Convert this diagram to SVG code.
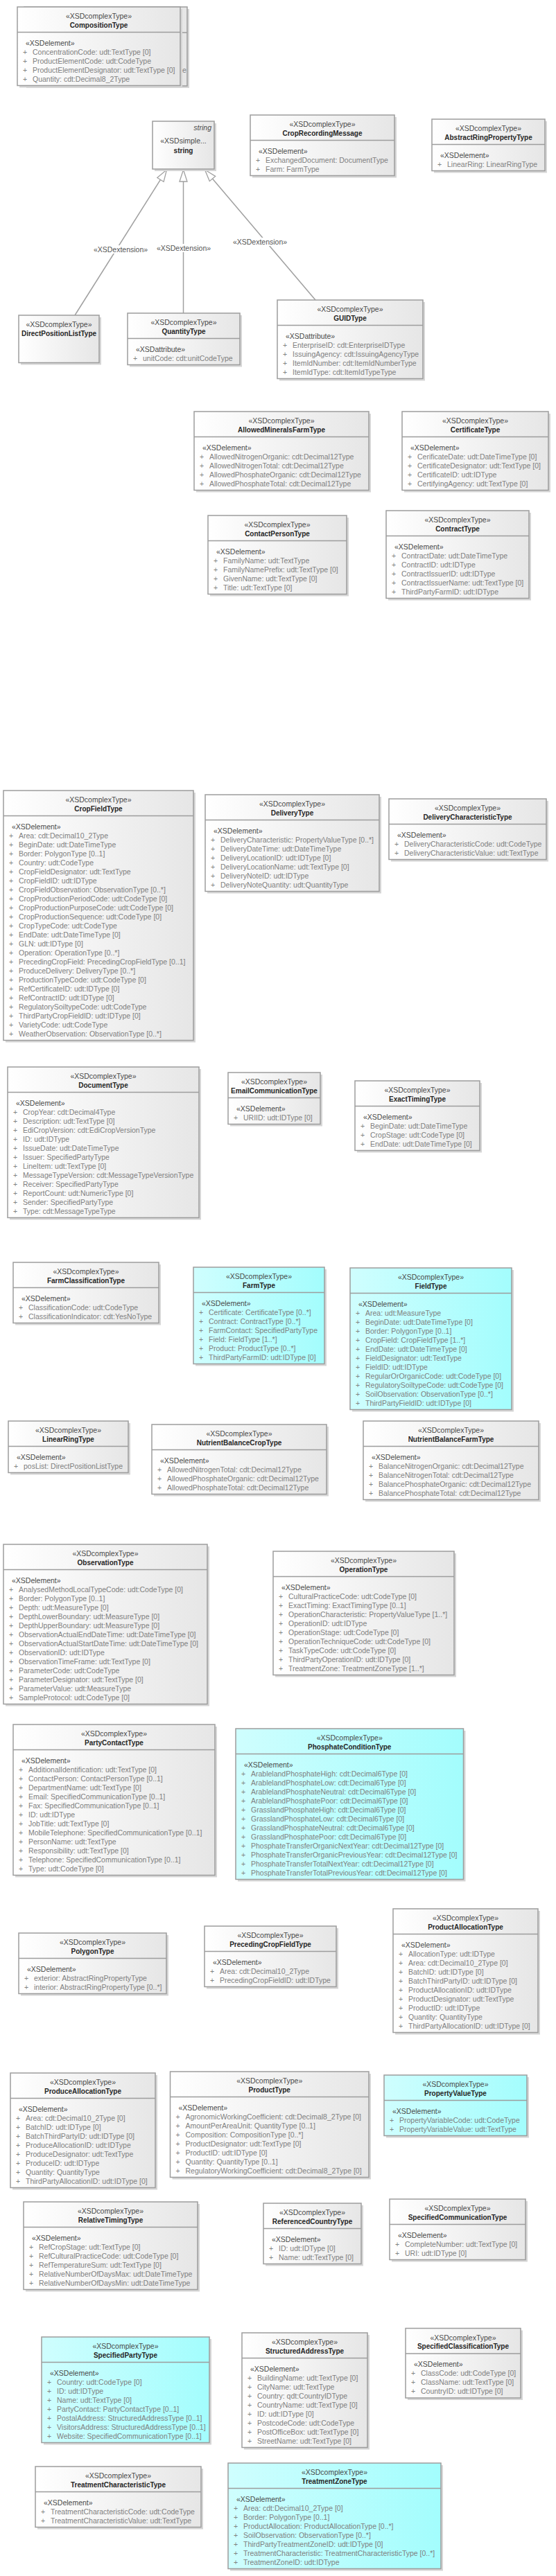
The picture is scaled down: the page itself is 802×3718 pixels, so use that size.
<svg xmlns="http://www.w3.org/2000/svg" width="802" height="3718" viewBox="0 0 802 3718">
<style>
text{font-family:"Liberation Sans",Arial,sans-serif;font-size:10.5px}
.b{fill:url(#gg);stroke:#9d9d9d;stroke-width:1.5}
.c{fill:url(#gc);stroke:#9d9d9d;stroke-width:1.5}
.sh{fill:#d6d6d6}
.d{stroke:#9d9d9d;stroke-width:1.5}
.s{fill:#4a4a4a;text-anchor:middle}
.n{fill:#262626;text-anchor:middle;font-weight:bold;font-size:10px}
.e{fill:#4a4a4a}
.a{fill:#808080}
.lb{fill:#555}
.cn{stroke:#a0a0a0;stroke-width:1.5;fill:none}
</style>
<defs>
<linearGradient id="gg" x1="0" y1="0" x2="1" y2="0"><stop offset="0" stop-color="#ffffff"/><stop offset="1" stop-color="#e6e6e6"/></linearGradient>
<linearGradient id="gc" x1="0" y1="0" x2="1" y2="0"><stop offset="0" stop-color="#cffefe"/><stop offset="1" stop-color="#a3fdfd"/></linearGradient>
<marker id="tri" markerUnits="userSpaceOnUse" markerWidth="20" markerHeight="14" refX="18" refY="7" orient="auto"><path d="M1,1.5 L18,7 L1,12.5 Z" fill="#fff" stroke="#a0a0a0" stroke-width="1.3"/></marker>
</defs>
<rect width="802" height="3718" fill="#fff"/>

<g id="connectors">
<line class="cn" x1="108" y1="455" x2="240.5" y2="245" marker-end="url(#tri)"/>
<line class="cn" x1="264.5" y1="452" x2="264.5" y2="245" marker-end="url(#tri)"/>
<line class="cn" x1="455" y1="433" x2="295.5" y2="245" marker-end="url(#tri)"/>
<rect x="137" y="354" width="74" height="12" fill="#fff"/>
<rect x="228" y="352" width="74" height="12" fill="#fff"/>
<rect x="338" y="343" width="74" height="12" fill="#fff"/>
<text class="lb" x="174" y="363.5" text-anchor="middle">«XSDextension»</text>
<text class="lb" x="265" y="361.5" text-anchor="middle">«XSDextension»</text>
<text class="lb" x="375" y="352.5" text-anchor="middle">«XSDextension»</text>
</g>

<g id="CompositionType_2" transform="translate(35,10)">
<rect class="sh" x="3" y="3" width="235" height="114"/>
<rect class="b" width="235" height="114"/>
<line class="d" x1="0" y1="37" x2="235" y2="37"/>
<text class="a" x="228" y="94.5">e</text>
</g>
<g id="CompositionType" transform="translate(25,10)">
<rect class="sh" x="3" y="3" width="235" height="113.5"/>
<rect class="b" width="235" height="113.5"/>
<line class="d" x1="0" y1="36.5" x2="235" y2="36.5"/>
<text class="s" x="117.5" y="17">«XSDcomplexType»</text>
<text class="n" x="117.5" y="29.5">CompositionType</text>
<text class="e" x="12" y="55.5">«XSDelement»</text>
<text class="a" x="8" y="68.5">+<tspan x="8" dy="13">+</tspan><tspan x="8" dy="13">+</tspan><tspan x="8" dy="13">+</tspan></text>
<text class="a" x="22" y="68.5">ConcentrationCode: udt:TextType [0]<tspan x="22" dy="13">ProductElementCode: udt:CodeType</tspan><tspan x="22" dy="13">ProductElementDesignator: udt:TextType [0]</tspan><tspan x="22" dy="13">Quantity: cdt:Decimal8_2Type</tspan></text>
</g>

<g id="string" transform="translate(220,175)">
<rect class="sh" x="3" y="3" width="89" height="69"/>
<rect class="b" width="89" height="69"/>
<text class="e" x="85" y="13" text-anchor="end" font-style="italic">string</text>
<text class="s" x="44.5" y="32">«XSDsimple...</text>
<text class="n" x="44.5" y="46">string</text>
</g>

<g id="CropRecordingMessage" transform="translate(361,166)">
<rect class="sh" x="3" y="3" width="208" height="87.5"/>
<rect class="b" width="208" height="87.5"/>
<line class="d" x1="0" y1="36.5" x2="208" y2="36.5"/>
<text class="s" x="104" y="17">«XSDcomplexType»</text>
<text class="n" x="104" y="29.5">CropRecordingMessage</text>
<text class="e" x="12" y="55.5">«XSDelement»</text>
<text class="a" x="8" y="68.5">+<tspan x="8" dy="13">+</tspan></text>
<text class="a" x="22" y="68.5">ExchangedDocument: DocumentType<tspan x="22" dy="13">Farm: FarmType</tspan></text>
</g>

<g id="AbstractRingPropertyType" transform="translate(623,172)">
<rect class="sh" x="3" y="3" width="163" height="74.5"/>
<rect class="b" width="163" height="74.5"/>
<line class="d" x1="0" y1="36.5" x2="163" y2="36.5"/>
<text class="s" x="81.5" y="17">«XSDcomplexType»</text>
<text class="n" x="81.5" y="29.5">AbstractRingPropertyType</text>
<text class="e" x="12" y="55.5">«XSDelement»</text>
<text class="a" x="8" y="68.5">+</text>
<text class="a" x="22" y="68.5">LinearRing: LinearRingType</text>
</g>

<g id="DirectPositionListType" transform="translate(27,455)">
<rect class="sh" x="3" y="3" width="116" height="68.5"/>
<rect class="b" width="116" height="68.5"/>
<text class="s" x="58" y="17">«XSDcomplexType»</text>
<text class="n" x="58" y="29.5">DirectPositionListType</text>
</g>

<g id="QuantityType" transform="translate(184,452)">
<rect class="sh" x="3" y="3" width="162" height="74.5"/>
<rect class="b" width="162" height="74.5"/>
<line class="d" x1="0" y1="36.5" x2="162" y2="36.5"/>
<text class="s" x="81" y="17">«XSDcomplexType»</text>
<text class="n" x="81" y="29.5">QuantityType</text>
<text class="e" x="12" y="55.5">«XSDattribute»</text>
<text class="a" x="8" y="68.5">+</text>
<text class="a" x="22" y="68.5">unitCode: cdt:unitCodeType</text>
</g>

<g id="GUIDType" transform="translate(400,433)">
<rect class="sh" x="3" y="3" width="210" height="113.5"/>
<rect class="b" width="210" height="113.5"/>
<line class="d" x1="0" y1="36.5" x2="210" y2="36.5"/>
<text class="s" x="105" y="17">«XSDcomplexType»</text>
<text class="n" x="105" y="29.5">GUIDType</text>
<text class="e" x="12" y="55.5">«XSDattribute»</text>
<text class="a" x="8" y="68.5">+<tspan x="8" dy="13">+</tspan><tspan x="8" dy="13">+</tspan><tspan x="8" dy="13">+</tspan></text>
<text class="a" x="22" y="68.5">EnterpriseID: cdt:EnterpriseIDType<tspan x="22" dy="13">IssuingAgency: cdt:IssuingAgencyType</tspan><tspan x="22" dy="13">ItemIdNumber: cdt:ItemIdNumberType</tspan><tspan x="22" dy="13">ItemIdType: cdt:ItemIdTypeType</tspan></text>
</g>

<g id="AllowedMineralsFarmType" transform="translate(280,594)">
<rect class="sh" x="3" y="3" width="252" height="113.5"/>
<rect class="b" width="252" height="113.5"/>
<line class="d" x1="0" y1="36.5" x2="252" y2="36.5"/>
<text class="s" x="126" y="17">«XSDcomplexType»</text>
<text class="n" x="126" y="29.5">AllowedMineralsFarmType</text>
<text class="e" x="12" y="55.5">«XSDelement»</text>
<text class="a" x="8" y="68.5">+<tspan x="8" dy="13">+</tspan><tspan x="8" dy="13">+</tspan><tspan x="8" dy="13">+</tspan></text>
<text class="a" x="22" y="68.5">AllowedNitrogenOrganic: cdt:Decimal12Type<tspan x="22" dy="13">AllowedNitrogenTotal: cdt:Decimal12Type</tspan><tspan x="22" dy="13">AllowedPhosphateOrganic: cdt:Decimal12Type</tspan><tspan x="22" dy="13">AllowedPhosphateTotal: cdt:Decimal12Type</tspan></text>
</g>

<g id="CertificateType" transform="translate(580,594)">
<rect class="sh" x="3" y="3" width="211" height="113.5"/>
<rect class="b" width="211" height="113.5"/>
<line class="d" x1="0" y1="36.5" x2="211" y2="36.5"/>
<text class="s" x="105.5" y="17">«XSDcomplexType»</text>
<text class="n" x="105.5" y="29.5">CertificateType</text>
<text class="e" x="12" y="55.5">«XSDelement»</text>
<text class="a" x="8" y="68.5">+<tspan x="8" dy="13">+</tspan><tspan x="8" dy="13">+</tspan><tspan x="8" dy="13">+</tspan></text>
<text class="a" x="22" y="68.5">CerificateDate: udt:DateTimeType [0]<tspan x="22" dy="13">CertificateDesignator: udt:TextType [0]</tspan><tspan x="22" dy="13">CertificateID: udt:IDType</tspan><tspan x="22" dy="13">CertifyingAgency: udt:TextType [0]</tspan></text>
</g>

<g id="ContactPersonType" transform="translate(300,744)">
<rect class="sh" x="3" y="3" width="200" height="113.5"/>
<rect class="b" width="200" height="113.5"/>
<line class="d" x1="0" y1="36.5" x2="200" y2="36.5"/>
<text class="s" x="100" y="17">«XSDcomplexType»</text>
<text class="n" x="100" y="29.5">ContactPersonType</text>
<text class="e" x="12" y="55.5">«XSDelement»</text>
<text class="a" x="8" y="68.5">+<tspan x="8" dy="13">+</tspan><tspan x="8" dy="13">+</tspan><tspan x="8" dy="13">+</tspan></text>
<text class="a" x="22" y="68.5">FamilyName: udt:TextType<tspan x="22" dy="13">FamilyNamePrefix: udt:TextType [0]</tspan><tspan x="22" dy="13">GivenName: udt:TextType [0]</tspan><tspan x="22" dy="13">Title: udt:TextType [0]</tspan></text>
</g>

<g id="ContractType" transform="translate(557,737)">
<rect class="sh" x="3" y="3" width="206" height="126.5"/>
<rect class="b" width="206" height="126.5"/>
<line class="d" x1="0" y1="36.5" x2="206" y2="36.5"/>
<text class="s" x="103" y="17">«XSDcomplexType»</text>
<text class="n" x="103" y="29.5">ContractType</text>
<text class="e" x="12" y="55.5">«XSDelement»</text>
<text class="a" x="8" y="68.5">+<tspan x="8" dy="13">+</tspan><tspan x="8" dy="13">+</tspan><tspan x="8" dy="13">+</tspan><tspan x="8" dy="13">+</tspan></text>
<text class="a" x="22" y="68.5">ContractDate: udt:DateTimeType<tspan x="22" dy="13">ContractID: udt:IDType</tspan><tspan x="22" dy="13">ContractIssuerID: udt:IDType</tspan><tspan x="22" dy="13">ContractIssuerName: udt:TextType [0]</tspan><tspan x="22" dy="13">ThirdPartyFarmID: udt:IDType</tspan></text>
</g>

<g id="CropFieldType" transform="translate(5,1141)">
<rect class="sh" x="3" y="3" width="274" height="360.5"/>
<rect class="b" width="274" height="360.5"/>
<line class="d" x1="0" y1="36.5" x2="274" y2="36.5"/>
<text class="s" x="137" y="17">«XSDcomplexType»</text>
<text class="n" x="137" y="29.5">CropFieldType</text>
<text class="e" x="12" y="55.5">«XSDelement»</text>
<text class="a" x="8" y="68.5">+<tspan x="8" dy="13">+</tspan><tspan x="8" dy="13">+</tspan><tspan x="8" dy="13">+</tspan><tspan x="8" dy="13">+</tspan><tspan x="8" dy="13">+</tspan><tspan x="8" dy="13">+</tspan><tspan x="8" dy="13">+</tspan><tspan x="8" dy="13">+</tspan><tspan x="8" dy="13">+</tspan><tspan x="8" dy="13">+</tspan><tspan x="8" dy="13">+</tspan><tspan x="8" dy="13">+</tspan><tspan x="8" dy="13">+</tspan><tspan x="8" dy="13">+</tspan><tspan x="8" dy="13">+</tspan><tspan x="8" dy="13">+</tspan><tspan x="8" dy="13">+</tspan><tspan x="8" dy="13">+</tspan><tspan x="8" dy="13">+</tspan><tspan x="8" dy="13">+</tspan><tspan x="8" dy="13">+</tspan><tspan x="8" dy="13">+</tspan></text>
<text class="a" x="22" y="68.5">Area: cdt:Decimal10_2Type<tspan x="22" dy="13">BeginDate: udt:DateTimeType</tspan><tspan x="22" dy="13">Border: PolygonType [0..1]</tspan><tspan x="22" dy="13">Country: udt:CodeType</tspan><tspan x="22" dy="13">CropFieldDesignator: udt:TextType</tspan><tspan x="22" dy="13">CropFieldID: udt:IDType</tspan><tspan x="22" dy="13">CropFieldObservation: ObservationType [0..*]</tspan><tspan x="22" dy="13">CropProductionPeriodCode: udt:CodeType [0]</tspan><tspan x="22" dy="13">CropProductionPurposeCode: udt:CodeType [0]</tspan><tspan x="22" dy="13">CropProductionSequence: udt:CodeType [0]</tspan><tspan x="22" dy="13">CropTypeCode: udt:CodeType</tspan><tspan x="22" dy="13">EndDate: udt:DateTimeType [0]</tspan><tspan x="22" dy="13">GLN: udt:IDType [0]</tspan><tspan x="22" dy="13">Operation: OperationType [0..*]</tspan><tspan x="22" dy="13">PrecedingCropField: PrecedingCropFieldType [0..1]</tspan><tspan x="22" dy="13">ProduceDelivery: DeliveryType [0..*]</tspan><tspan x="22" dy="13">ProductionTypeCode: udt:CodeType [0]</tspan><tspan x="22" dy="13">RefCertificateID: udt:IDType [0]</tspan><tspan x="22" dy="13">RefContractID: udt:IDType [0]</tspan><tspan x="22" dy="13">RegulatorySoiltypeCode: udt:CodeType</tspan><tspan x="22" dy="13">ThirdPartyCropFieldID: udt:IDType [0]</tspan><tspan x="22" dy="13">VarietyCode: udt:CodeType</tspan><tspan x="22" dy="13">WeatherObservation: ObservationType [0..*]</tspan></text>
</g>

<g id="DeliveryType" transform="translate(296,1147)">
<rect class="sh" x="3" y="3" width="251" height="139.5"/>
<rect class="b" width="251" height="139.5"/>
<line class="d" x1="0" y1="36.5" x2="251" y2="36.5"/>
<text class="s" x="125.5" y="17">«XSDcomplexType»</text>
<text class="n" x="125.5" y="29.5">DeliveryType</text>
<text class="e" x="12" y="55.5">«XSDelement»</text>
<text class="a" x="8" y="68.5">+<tspan x="8" dy="13">+</tspan><tspan x="8" dy="13">+</tspan><tspan x="8" dy="13">+</tspan><tspan x="8" dy="13">+</tspan><tspan x="8" dy="13">+</tspan></text>
<text class="a" x="22" y="68.5">DeliveryCharacteristic: PropertyValueType [0..*]<tspan x="22" dy="13">DeliveryDateTime: udt:DateTimeType</tspan><tspan x="22" dy="13">DeliveryLocationID: udt:IDType [0]</tspan><tspan x="22" dy="13">DeliveryLocationName: udt:TextType [0]</tspan><tspan x="22" dy="13">DeliveryNoteID: udt:IDType</tspan><tspan x="22" dy="13">DeliveryNoteQuantity: udt:QuantityType</tspan></text>
</g>

<g id="DeliveryCharacteristicType" transform="translate(561,1153)">
<rect class="sh" x="3" y="3" width="227" height="87.5"/>
<rect class="b" width="227" height="87.5"/>
<line class="d" x1="0" y1="36.5" x2="227" y2="36.5"/>
<text class="s" x="113.5" y="17">«XSDcomplexType»</text>
<text class="n" x="113.5" y="29.5">DeliveryCharacteristicType</text>
<text class="e" x="12" y="55.5">«XSDelement»</text>
<text class="a" x="8" y="68.5">+<tspan x="8" dy="13">+</tspan></text>
<text class="a" x="22" y="68.5">DeliveryCharacteristicCode: udt:CodeType<tspan x="22" dy="13">DeliveryCharacteristicValue: udt:TextType</tspan></text>
</g>

<g id="DocumentType" transform="translate(11,1540)">
<rect class="sh" x="3" y="3" width="276" height="217.5"/>
<rect class="b" width="276" height="217.5"/>
<line class="d" x1="0" y1="36.5" x2="276" y2="36.5"/>
<text class="s" x="138" y="17">«XSDcomplexType»</text>
<text class="n" x="138" y="29.5">DocumentType</text>
<text class="e" x="12" y="55.5">«XSDelement»</text>
<text class="a" x="8" y="68.5">+<tspan x="8" dy="13">+</tspan><tspan x="8" dy="13">+</tspan><tspan x="8" dy="13">+</tspan><tspan x="8" dy="13">+</tspan><tspan x="8" dy="13">+</tspan><tspan x="8" dy="13">+</tspan><tspan x="8" dy="13">+</tspan><tspan x="8" dy="13">+</tspan><tspan x="8" dy="13">+</tspan><tspan x="8" dy="13">+</tspan><tspan x="8" dy="13">+</tspan></text>
<text class="a" x="22" y="68.5">CropYear: cdt:Decimal4Type<tspan x="22" dy="13">Description: udt:TextType [0]</tspan><tspan x="22" dy="13">EdiCropVersion: cdt:EdiCropVersionType</tspan><tspan x="22" dy="13">ID: udt:IDType</tspan><tspan x="22" dy="13">IssueDate: udt:DateTimeType</tspan><tspan x="22" dy="13">Issuer: SpecifiedPartyType</tspan><tspan x="22" dy="13">LineItem: udt:TextType [0]</tspan><tspan x="22" dy="13">MessageTypeVersion: cdt:MessageTypeVersionType</tspan><tspan x="22" dy="13">Receiver: SpecifiedPartyType</tspan><tspan x="22" dy="13">ReportCount: udt:NumericType [0]</tspan><tspan x="22" dy="13">Sender: SpecifiedPartyType</tspan><tspan x="22" dy="13">Type: cdt:MessageTypeType</tspan></text>
</g>

<g id="EmailCommunicationType" transform="translate(329,1548)">
<rect class="sh" x="3" y="3" width="133" height="74.5"/>
<rect class="b" width="133" height="74.5"/>
<line class="d" x1="0" y1="36.5" x2="133" y2="36.5"/>
<text class="s" x="66.5" y="17">«XSDcomplexType»</text>
<text class="n" x="66.5" y="29.5">EmailCommunicationType</text>
<text class="e" x="12" y="55.5">«XSDelement»</text>
<text class="a" x="8" y="68.5">+</text>
<text class="a" x="22" y="68.5">URIID: udt:IDType [0]</text>
</g>

<g id="ExactTimingType" transform="translate(512,1560)">
<rect class="sh" x="3" y="3" width="180" height="100.5"/>
<rect class="b" width="180" height="100.5"/>
<line class="d" x1="0" y1="36.5" x2="180" y2="36.5"/>
<text class="s" x="90" y="17">«XSDcomplexType»</text>
<text class="n" x="90" y="29.5">ExactTimingType</text>
<text class="e" x="12" y="55.5">«XSDelement»</text>
<text class="a" x="8" y="68.5">+<tspan x="8" dy="13">+</tspan><tspan x="8" dy="13">+</tspan></text>
<text class="a" x="22" y="68.5">BeginDate: udt:DateTimeType<tspan x="22" dy="13">CropStage: udt:CodeType [0]</tspan><tspan x="22" dy="13">EndDate: udt:DateTimeType [0]</tspan></text>
</g>

<g id="FarmClassificationType" transform="translate(19,1822)">
<rect class="sh" x="3" y="3" width="210" height="87.5"/>
<rect class="b" width="210" height="87.5"/>
<line class="d" x1="0" y1="36.5" x2="210" y2="36.5"/>
<text class="s" x="105" y="17">«XSDcomplexType»</text>
<text class="n" x="105" y="29.5">FarmClassificationType</text>
<text class="e" x="12" y="55.5">«XSDelement»</text>
<text class="a" x="8" y="68.5">+<tspan x="8" dy="13">+</tspan></text>
<text class="a" x="22" y="68.5">ClassificationCode: udt:CodeType<tspan x="22" dy="13">ClassificationIndicator: cdt:YesNoType</tspan></text>
</g>

<g id="FarmType" transform="translate(279,1829)">
<rect class="sh" x="3" y="3" width="189" height="139.5"/>
<rect class="c" width="189" height="139.5"/>
<line class="d" x1="0" y1="36.5" x2="189" y2="36.5"/>
<text class="s" x="94.5" y="17">«XSDcomplexType»</text>
<text class="n" x="94.5" y="29.5">FarmType</text>
<text class="e" x="12" y="55.5">«XSDelement»</text>
<text class="a" x="8" y="68.5">+<tspan x="8" dy="13">+</tspan><tspan x="8" dy="13">+</tspan><tspan x="8" dy="13">+</tspan><tspan x="8" dy="13">+</tspan><tspan x="8" dy="13">+</tspan></text>
<text class="a" x="22" y="68.5">Certificate: CertificateType [0..*]<tspan x="22" dy="13">Contract: ContractType [0..*]</tspan><tspan x="22" dy="13">FarmContact: SpecifiedPartyType</tspan><tspan x="22" dy="13">Field: FieldType [1..*]</tspan><tspan x="22" dy="13">Product: ProductType [0..*]</tspan><tspan x="22" dy="13">ThirdPartyFarmID: udt:IDType [0]</tspan></text>
</g>

<g id="FieldType" transform="translate(505,1830)">
<rect class="sh" x="3" y="3" width="233" height="204.5"/>
<rect class="c" width="233" height="204.5"/>
<line class="d" x1="0" y1="36.5" x2="233" y2="36.5"/>
<text class="s" x="116.5" y="17">«XSDcomplexType»</text>
<text class="n" x="116.5" y="29.5">FieldType</text>
<text class="e" x="12" y="55.5">«XSDelement»</text>
<text class="a" x="8" y="68.5">+<tspan x="8" dy="13">+</tspan><tspan x="8" dy="13">+</tspan><tspan x="8" dy="13">+</tspan><tspan x="8" dy="13">+</tspan><tspan x="8" dy="13">+</tspan><tspan x="8" dy="13">+</tspan><tspan x="8" dy="13">+</tspan><tspan x="8" dy="13">+</tspan><tspan x="8" dy="13">+</tspan><tspan x="8" dy="13">+</tspan></text>
<text class="a" x="22" y="68.5">Area: udt:MeasureType<tspan x="22" dy="13">BeginDate: udt:DateTimeType [0]</tspan><tspan x="22" dy="13">Border: PolygonType [0..1]</tspan><tspan x="22" dy="13">CropField: CropFieldType [1..*]</tspan><tspan x="22" dy="13">EndDate: udt:DateTimeType [0]</tspan><tspan x="22" dy="13">FieldDesignator: udt:TextType</tspan><tspan x="22" dy="13">FieldID: udt:IDType</tspan><tspan x="22" dy="13">RegularOrOrganicCode: udt:CodeType [0]</tspan><tspan x="22" dy="13">RegulatorySoiltypeCode: udt:CodeType [0]</tspan><tspan x="22" dy="13">SoilObservation: ObservationType [0..*]</tspan><tspan x="22" dy="13">ThirdPartyFieldID: udt:IDType [0]</tspan></text>
</g>

<g id="LinearRingType" transform="translate(12,2051)">
<rect class="sh" x="3" y="3" width="173" height="74.5"/>
<rect class="b" width="173" height="74.5"/>
<line class="d" x1="0" y1="36.5" x2="173" y2="36.5"/>
<text class="s" x="86.5" y="17">«XSDcomplexType»</text>
<text class="n" x="86.5" y="29.5">LinearRingType</text>
<text class="e" x="12" y="55.5">«XSDelement»</text>
<text class="a" x="8" y="68.5">+</text>
<text class="a" x="22" y="68.5">posList: DirectPositionListType</text>
</g>

<g id="NutrientBalanceCropType" transform="translate(219,2056)">
<rect class="sh" x="3" y="3" width="252" height="100.5"/>
<rect class="b" width="252" height="100.5"/>
<line class="d" x1="0" y1="36.5" x2="252" y2="36.5"/>
<text class="s" x="126" y="17">«XSDcomplexType»</text>
<text class="n" x="126" y="29.5">NutrientBalanceCropType</text>
<text class="e" x="12" y="55.5">«XSDelement»</text>
<text class="a" x="8" y="68.5">+<tspan x="8" dy="13">+</tspan><tspan x="8" dy="13">+</tspan></text>
<text class="a" x="22" y="68.5">AllowedNitrogenTotal: cdt:Decimal12Type<tspan x="22" dy="13">AllowedPhosphateOrganic: cdt:Decimal12Type</tspan><tspan x="22" dy="13">AllowedPhosphateTotal: cdt:Decimal12Type</tspan></text>
</g>

<g id="NutrientBalanceFarmType" transform="translate(524,2051)">
<rect class="sh" x="3" y="3" width="253" height="113.5"/>
<rect class="b" width="253" height="113.5"/>
<line class="d" x1="0" y1="36.5" x2="253" y2="36.5"/>
<text class="s" x="126.5" y="17">«XSDcomplexType»</text>
<text class="n" x="126.5" y="29.5">NutrientBalanceFarmType</text>
<text class="e" x="12" y="55.5">«XSDelement»</text>
<text class="a" x="8" y="68.5">+<tspan x="8" dy="13">+</tspan><tspan x="8" dy="13">+</tspan><tspan x="8" dy="13">+</tspan></text>
<text class="a" x="22" y="68.5">BalanceNitrogenOrganic: cdt:Decimal12Type<tspan x="22" dy="13">BalanceNitrogenTotal: cdt:Decimal12Type</tspan><tspan x="22" dy="13">BalancePhosphateOrganic: cdt:Decimal12Type</tspan><tspan x="22" dy="13">BalancePhosphateTotal: cdt:Decimal12Type</tspan></text>
</g>

<g id="ObservationType" transform="translate(5,2229)">
<rect class="sh" x="3" y="3" width="294" height="230.5"/>
<rect class="b" width="294" height="230.5"/>
<line class="d" x1="0" y1="36.5" x2="294" y2="36.5"/>
<text class="s" x="147" y="17">«XSDcomplexType»</text>
<text class="n" x="147" y="29.5">ObservationType</text>
<text class="e" x="12" y="55.5">«XSDelement»</text>
<text class="a" x="8" y="68.5">+<tspan x="8" dy="13">+</tspan><tspan x="8" dy="13">+</tspan><tspan x="8" dy="13">+</tspan><tspan x="8" dy="13">+</tspan><tspan x="8" dy="13">+</tspan><tspan x="8" dy="13">+</tspan><tspan x="8" dy="13">+</tspan><tspan x="8" dy="13">+</tspan><tspan x="8" dy="13">+</tspan><tspan x="8" dy="13">+</tspan><tspan x="8" dy="13">+</tspan><tspan x="8" dy="13">+</tspan></text>
<text class="a" x="22" y="68.5">AnalysedMethodLocalTypeCode: udt:CodeType [0]<tspan x="22" dy="13">Border: PolygonType [0..1]</tspan><tspan x="22" dy="13">Depth: udt:MeasureType [0]</tspan><tspan x="22" dy="13">DepthLowerBoundary: udt:MeasureType [0]</tspan><tspan x="22" dy="13">DepthUpperBoundary: udt:MeasureType [0]</tspan><tspan x="22" dy="13">ObservationActualEndDateTime: udt:DateTimeType [0]</tspan><tspan x="22" dy="13">ObservationActualStartDateTime: udt:DateTimeType [0]</tspan><tspan x="22" dy="13">ObservationID: udt:IDType</tspan><tspan x="22" dy="13">ObservationTimeFrame: udt:TextType [0]</tspan><tspan x="22" dy="13">ParameterCode: udt:CodeType</tspan><tspan x="22" dy="13">ParameterDesignator: udt:TextType [0]</tspan><tspan x="22" dy="13">ParameterValue: udt:MeasureType</tspan><tspan x="22" dy="13">SampleProtocol: udt:CodeType [0]</tspan></text>
</g>

<g id="OperationType" transform="translate(394,2239)">
<rect class="sh" x="3" y="3" width="261" height="178.5"/>
<rect class="b" width="261" height="178.5"/>
<line class="d" x1="0" y1="36.5" x2="261" y2="36.5"/>
<text class="s" x="130.5" y="17">«XSDcomplexType»</text>
<text class="n" x="130.5" y="29.5">OperationType</text>
<text class="e" x="12" y="55.5">«XSDelement»</text>
<text class="a" x="8" y="68.5">+<tspan x="8" dy="13">+</tspan><tspan x="8" dy="13">+</tspan><tspan x="8" dy="13">+</tspan><tspan x="8" dy="13">+</tspan><tspan x="8" dy="13">+</tspan><tspan x="8" dy="13">+</tspan><tspan x="8" dy="13">+</tspan><tspan x="8" dy="13">+</tspan></text>
<text class="a" x="22" y="68.5">CulturalPracticeCode: udt:CodeType [0]<tspan x="22" dy="13">ExactTiming: ExactTimingType [0..1]</tspan><tspan x="22" dy="13">OperationCharacteristic: PropertyValueType [1..*]</tspan><tspan x="22" dy="13">OperationID: udt:IDType</tspan><tspan x="22" dy="13">OperationStage: udt:CodeType [0]</tspan><tspan x="22" dy="13">OperationTechniqueCode: udt:CodeType [0]</tspan><tspan x="22" dy="13">TaskTypeCode: udt:CodeType [0]</tspan><tspan x="22" dy="13">ThirdPartyOperationID: udt:IDType [0]</tspan><tspan x="22" dy="13">TreatmentZone: TreatmentZoneType [1..*]</tspan></text>
</g>

<g id="PartyContactType" transform="translate(19,2489)">
<rect class="sh" x="3" y="3" width="291" height="217.5"/>
<rect class="b" width="291" height="217.5"/>
<line class="d" x1="0" y1="36.5" x2="291" y2="36.5"/>
<text class="s" x="145.5" y="17">«XSDcomplexType»</text>
<text class="n" x="145.5" y="29.5">PartyContactType</text>
<text class="e" x="12" y="55.5">«XSDelement»</text>
<text class="a" x="8" y="68.5">+<tspan x="8" dy="13">+</tspan><tspan x="8" dy="13">+</tspan><tspan x="8" dy="13">+</tspan><tspan x="8" dy="13">+</tspan><tspan x="8" dy="13">+</tspan><tspan x="8" dy="13">+</tspan><tspan x="8" dy="13">+</tspan><tspan x="8" dy="13">+</tspan><tspan x="8" dy="13">+</tspan><tspan x="8" dy="13">+</tspan><tspan x="8" dy="13">+</tspan></text>
<text class="a" x="22" y="68.5">AdditionalIdentification: udt:TextType [0]<tspan x="22" dy="13">ContactPerson: ContactPersonType [0..1]</tspan><tspan x="22" dy="13">DepartmentName: udt:TextType [0]</tspan><tspan x="22" dy="13">Email: SpecifiedCommunicationType [0..1]</tspan><tspan x="22" dy="13">Fax: SpecifiedCommunicationType [0..1]</tspan><tspan x="22" dy="13">ID: udt:IDType</tspan><tspan x="22" dy="13">JobTitle: udt:TextType [0]</tspan><tspan x="22" dy="13">MobileTelephone: SpecifiedCommunicationType [0..1]</tspan><tspan x="22" dy="13">PersonName: udt:TextType</tspan><tspan x="22" dy="13">Responsibility: udt:TextType [0]</tspan><tspan x="22" dy="13">Telephone: SpecifiedCommunicationType [0..1]</tspan><tspan x="22" dy="13">Type: udt:CodeType [0]</tspan></text>
</g>

<g id="PhosphateConditionType" transform="translate(340,2495)">
<rect class="sh" x="3" y="3" width="328.5" height="217.5"/>
<rect class="c" width="328.5" height="217.5"/>
<line class="d" x1="0" y1="36.5" x2="328.5" y2="36.5"/>
<text class="s" x="164.25" y="17">«XSDcomplexType»</text>
<text class="n" x="164.25" y="29.5">PhosphateConditionType</text>
<text class="e" x="12" y="55.5">«XSDelement»</text>
<text class="a" x="8" y="68.5">+<tspan x="8" dy="13">+</tspan><tspan x="8" dy="13">+</tspan><tspan x="8" dy="13">+</tspan><tspan x="8" dy="13">+</tspan><tspan x="8" dy="13">+</tspan><tspan x="8" dy="13">+</tspan><tspan x="8" dy="13">+</tspan><tspan x="8" dy="13">+</tspan><tspan x="8" dy="13">+</tspan><tspan x="8" dy="13">+</tspan><tspan x="8" dy="13">+</tspan></text>
<text class="a" x="22" y="68.5">ArablelandPhosphateHigh: cdt:Decimal6Type [0]<tspan x="22" dy="13">ArablelandPhosphateLow: cdt:Decimal6Type [0]</tspan><tspan x="22" dy="13">ArablelandPhosphateNeutral: cdt:Decimal6Type [0]</tspan><tspan x="22" dy="13">ArablelandPhosphatePoor: cdt:Decimal6Type [0]</tspan><tspan x="22" dy="13">GrasslandPhosphateHigh: cdt:Decimal6Type [0]</tspan><tspan x="22" dy="13">GrasslandPhosphateLow: cdt:Decimal6Type [0]</tspan><tspan x="22" dy="13">GrasslandPhosphateNeutral: cdt:Decimal6Type [0]</tspan><tspan x="22" dy="13">GrasslandPhosphatePoor: cdt:Decimal6Type [0]</tspan><tspan x="22" dy="13">PhosphateTransferOrganicNextYear: cdt:Decimal12Type [0]</tspan><tspan x="22" dy="13">PhosphateTransferOrganicPreviousYear: cdt:Decimal12Type [0]</tspan><tspan x="22" dy="13">PhosphateTransferTotalNextYear: cdt:Decimal12Type [0]</tspan><tspan x="22" dy="13">PhosphateTransferTotalPreviousYear: cdt:Decimal12Type [0]</tspan></text>
</g>

<g id="PolygonType" transform="translate(27,2790)">
<rect class="sh" x="3" y="3" width="213" height="87.5"/>
<rect class="b" width="213" height="87.5"/>
<line class="d" x1="0" y1="36.5" x2="213" y2="36.5"/>
<text class="s" x="106.5" y="17">«XSDcomplexType»</text>
<text class="n" x="106.5" y="29.5">PolygonType</text>
<text class="e" x="12" y="55.5">«XSDelement»</text>
<text class="a" x="8" y="68.5">+<tspan x="8" dy="13">+</tspan></text>
<text class="a" x="22" y="68.5">exterior: AbstractRingPropertyType<tspan x="22" dy="13">interior: AbstractRingPropertyType [0..*]</tspan></text>
</g>

<g id="PrecedingCropFieldType" transform="translate(295,2780)">
<rect class="sh" x="3" y="3" width="190" height="87.5"/>
<rect class="b" width="190" height="87.5"/>
<line class="d" x1="0" y1="36.5" x2="190" y2="36.5"/>
<text class="s" x="95" y="17">«XSDcomplexType»</text>
<text class="n" x="95" y="29.5">PrecedingCropFieldType</text>
<text class="e" x="12" y="55.5">«XSDelement»</text>
<text class="a" x="8" y="68.5">+<tspan x="8" dy="13">+</tspan></text>
<text class="a" x="22" y="68.5">Area: cdt:Decimal10_2Type<tspan x="22" dy="13">PrecedingCropFieldID: udt:IDType</tspan></text>
</g>

<g id="ProductAllocationType" transform="translate(567,2755)">
<rect class="sh" x="3" y="3" width="209" height="178.5"/>
<rect class="b" width="209" height="178.5"/>
<line class="d" x1="0" y1="36.5" x2="209" y2="36.5"/>
<text class="s" x="104.5" y="17">«XSDcomplexType»</text>
<text class="n" x="104.5" y="29.5">ProductAllocationType</text>
<text class="e" x="12" y="55.5">«XSDelement»</text>
<text class="a" x="8" y="68.5">+<tspan x="8" dy="13">+</tspan><tspan x="8" dy="13">+</tspan><tspan x="8" dy="13">+</tspan><tspan x="8" dy="13">+</tspan><tspan x="8" dy="13">+</tspan><tspan x="8" dy="13">+</tspan><tspan x="8" dy="13">+</tspan><tspan x="8" dy="13">+</tspan></text>
<text class="a" x="22" y="68.5">AllocationType: udt:IDType<tspan x="22" dy="13">Area: cdt:Decimal10_2Type [0]</tspan><tspan x="22" dy="13">BatchID: udt:IDType [0]</tspan><tspan x="22" dy="13">BatchThirdPartyID: udt:IDType [0]</tspan><tspan x="22" dy="13">ProductAllocationID: udt:IDType</tspan><tspan x="22" dy="13">ProductDesignator: udt:TextType</tspan><tspan x="22" dy="13">ProductID: udt:IDType</tspan><tspan x="22" dy="13">Quantity: QuantityType</tspan><tspan x="22" dy="13">ThirdPartyAllocationID: udt:IDType [0]</tspan></text>
</g>

<g id="ProduceAllocationType" transform="translate(15,2992)">
<rect class="sh" x="3" y="3" width="209" height="165.5"/>
<rect class="b" width="209" height="165.5"/>
<line class="d" x1="0" y1="36.5" x2="209" y2="36.5"/>
<text class="s" x="104.5" y="17">«XSDcomplexType»</text>
<text class="n" x="104.5" y="29.5">ProduceAllocationType</text>
<text class="e" x="12" y="55.5">«XSDelement»</text>
<text class="a" x="8" y="68.5">+<tspan x="8" dy="13">+</tspan><tspan x="8" dy="13">+</tspan><tspan x="8" dy="13">+</tspan><tspan x="8" dy="13">+</tspan><tspan x="8" dy="13">+</tspan><tspan x="8" dy="13">+</tspan><tspan x="8" dy="13">+</tspan></text>
<text class="a" x="22" y="68.5">Area: cdt:Decimal10_2Type [0]<tspan x="22" dy="13">BatchID: udt:IDType [0]</tspan><tspan x="22" dy="13">BatchThirdPartyID: udt:IDType [0]</tspan><tspan x="22" dy="13">ProduceAllocationID: udt:IDType</tspan><tspan x="22" dy="13">ProduceDesignator: udt:TextType</tspan><tspan x="22" dy="13">ProduceID: udt:IDType</tspan><tspan x="22" dy="13">Quantity: QuantityType</tspan><tspan x="22" dy="13">ThirdPartyAllocationID: udt:IDType [0]</tspan></text>
</g>

<g id="ProductType" transform="translate(245.5,2990)">
<rect class="sh" x="3" y="3" width="286.5" height="152.5"/>
<rect class="b" width="286.5" height="152.5"/>
<line class="d" x1="0" y1="36.5" x2="286.5" y2="36.5"/>
<text class="s" x="143.25" y="17">«XSDcomplexType»</text>
<text class="n" x="143.25" y="29.5">ProductType</text>
<text class="e" x="12" y="55.5">«XSDelement»</text>
<text class="a" x="8" y="68.5">+<tspan x="8" dy="13">+</tspan><tspan x="8" dy="13">+</tspan><tspan x="8" dy="13">+</tspan><tspan x="8" dy="13">+</tspan><tspan x="8" dy="13">+</tspan><tspan x="8" dy="13">+</tspan></text>
<text class="a" x="22" y="68.5">AgronomicWorkingCoefficient: cdt:Decimal8_2Type [0]<tspan x="22" dy="13">AmountPerAreaUnit: QuantityType [0..1]</tspan><tspan x="22" dy="13">Composition: CompositionType [0..*]</tspan><tspan x="22" dy="13">ProductDesignator: udt:TextType [0]</tspan><tspan x="22" dy="13">ProductID: udt:IDType [0]</tspan><tspan x="22" dy="13">Quantity: QuantityType [0..1]</tspan><tspan x="22" dy="13">RegulatoryWorkingCoefficient: cdt:Decimal8_2Type [0]</tspan></text>
</g>

<g id="PropertyValueType" transform="translate(554,2995)">
<rect class="sh" x="3" y="3" width="206" height="87.5"/>
<rect class="c" width="206" height="87.5"/>
<line class="d" x1="0" y1="36.5" x2="206" y2="36.5"/>
<text class="s" x="103" y="17">«XSDcomplexType»</text>
<text class="n" x="103" y="29.5">PropertyValueType</text>
<text class="e" x="12" y="55.5">«XSDelement»</text>
<text class="a" x="8" y="68.5">+<tspan x="8" dy="13">+</tspan></text>
<text class="a" x="22" y="68.5">PropertyVariableCode: udt:CodeType<tspan x="22" dy="13">PropertyVariableValue: udt:TextType</tspan></text>
</g>

<g id="RelativeTimingType" transform="translate(34,3178)">
<rect class="sh" x="3" y="3" width="251" height="126.5"/>
<rect class="b" width="251" height="126.5"/>
<line class="d" x1="0" y1="36.5" x2="251" y2="36.5"/>
<text class="s" x="125.5" y="17">«XSDcomplexType»</text>
<text class="n" x="125.5" y="29.5">RelativeTimingType</text>
<text class="e" x="12" y="55.5">«XSDelement»</text>
<text class="a" x="8" y="68.5">+<tspan x="8" dy="13">+</tspan><tspan x="8" dy="13">+</tspan><tspan x="8" dy="13">+</tspan><tspan x="8" dy="13">+</tspan></text>
<text class="a" x="22" y="68.5">RefCropStage: udt:TextType [0]<tspan x="22" dy="13">RefCulturalPracticeCode: udt:CodeType [0]</tspan><tspan x="22" dy="13">RefTemperatureSum: udt:TextType [0]</tspan><tspan x="22" dy="13">RelativeNumberOfDaysMax: udt:DateTimeType</tspan><tspan x="22" dy="13">RelativeNumberOfDaysMin: udt:DateTimeType</tspan></text>
</g>

<g id="ReferencedCountryType" transform="translate(380,3180)">
<rect class="sh" x="3" y="3" width="141" height="87.5"/>
<rect class="b" width="141" height="87.5"/>
<line class="d" x1="0" y1="36.5" x2="141" y2="36.5"/>
<text class="s" x="70.5" y="17">«XSDcomplexType»</text>
<text class="n" x="70.5" y="29.5">ReferencedCountryType</text>
<text class="e" x="12" y="55.5">«XSDelement»</text>
<text class="a" x="8" y="68.5">+<tspan x="8" dy="13">+</tspan></text>
<text class="a" x="22" y="68.5">ID: udt:IDType [0]<tspan x="22" dy="13">Name: udt:TextType [0]</tspan></text>
</g>

<g id="SpecifiedCommunicationType" transform="translate(562,3174)">
<rect class="sh" x="3" y="3" width="196" height="87.5"/>
<rect class="b" width="196" height="87.5"/>
<line class="d" x1="0" y1="36.5" x2="196" y2="36.5"/>
<text class="s" x="98" y="17">«XSDcomplexType»</text>
<text class="n" x="98" y="29.5">SpecifiedCommunicationType</text>
<text class="e" x="12" y="55.5">«XSDelement»</text>
<text class="a" x="8" y="68.5">+<tspan x="8" dy="13">+</tspan></text>
<text class="a" x="22" y="68.5">CompleteNumber: udt:TextType [0]<tspan x="22" dy="13">URI: udt:IDType [0]</tspan></text>
</g>

<g id="SpecifiedPartyType" transform="translate(60,3373)">
<rect class="sh" x="3" y="3" width="242" height="152.5"/>
<rect class="c" width="242" height="152.5"/>
<line class="d" x1="0" y1="36.5" x2="242" y2="36.5"/>
<text class="s" x="121" y="17">«XSDcomplexType»</text>
<text class="n" x="121" y="29.5">SpecifiedPartyType</text>
<text class="e" x="12" y="55.5">«XSDelement»</text>
<text class="a" x="8" y="68.5">+<tspan x="8" dy="13">+</tspan><tspan x="8" dy="13">+</tspan><tspan x="8" dy="13">+</tspan><tspan x="8" dy="13">+</tspan><tspan x="8" dy="13">+</tspan><tspan x="8" dy="13">+</tspan></text>
<text class="a" x="22" y="68.5">Country: udt:CodeType [0]<tspan x="22" dy="13">ID: udt:IDType</tspan><tspan x="22" dy="13">Name: udt:TextType [0]</tspan><tspan x="22" dy="13">PartyContact: PartyContactType [0..1]</tspan><tspan x="22" dy="13">PostalAddress: StructuredAddressType [0..1]</tspan><tspan x="22" dy="13">VisitorsAddress: StructuredAddressType [0..1]</tspan><tspan x="22" dy="13">Website: SpecifiedCommunicationType [0..1]</tspan></text>
</g>

<g id="StructuredAddressType" transform="translate(349,3367)">
<rect class="sh" x="3" y="3" width="181" height="165.5"/>
<rect class="b" width="181" height="165.5"/>
<line class="d" x1="0" y1="36.5" x2="181" y2="36.5"/>
<text class="s" x="90.5" y="17">«XSDcomplexType»</text>
<text class="n" x="90.5" y="29.5">StructuredAddressType</text>
<text class="e" x="12" y="55.5">«XSDelement»</text>
<text class="a" x="8" y="68.5">+<tspan x="8" dy="13">+</tspan><tspan x="8" dy="13">+</tspan><tspan x="8" dy="13">+</tspan><tspan x="8" dy="13">+</tspan><tspan x="8" dy="13">+</tspan><tspan x="8" dy="13">+</tspan><tspan x="8" dy="13">+</tspan></text>
<text class="a" x="22" y="68.5">BuildingName: udt:TextType [0]<tspan x="22" dy="13">CityName: udt:TextType</tspan><tspan x="22" dy="13">Country: qdt:CountryIDType</tspan><tspan x="22" dy="13">CountryName: udt:TextType [0]</tspan><tspan x="22" dy="13">ID: udt:IDType [0]</tspan><tspan x="22" dy="13">PostcodeCode: udt:CodeType</tspan><tspan x="22" dy="13">PostOfficeBox: udt:TextType [0]</tspan><tspan x="22" dy="13">StreetName: udt:TextType [0]</tspan></text>
</g>

<g id="SpecifiedClassificationType" transform="translate(585,3360.5)">
<rect class="sh" x="3" y="3" width="166" height="100.5"/>
<rect class="b" width="166" height="100.5"/>
<line class="d" x1="0" y1="36.5" x2="166" y2="36.5"/>
<text class="s" x="83" y="17">«XSDcomplexType»</text>
<text class="n" x="83" y="29.5">SpecifiedClassificationType</text>
<text class="e" x="12" y="55.5">«XSDelement»</text>
<text class="a" x="8" y="68.5">+<tspan x="8" dy="13">+</tspan><tspan x="8" dy="13">+</tspan></text>
<text class="a" x="22" y="68.5">ClassCode: udt:CodeType [0]<tspan x="22" dy="13">ClassName: udt:TextType [0]</tspan><tspan x="22" dy="13">CountryID: udt:IDType [0]</tspan></text>
</g>

<g id="TreatmentCharacteristicType" transform="translate(51,3560)">
<rect class="sh" x="3" y="3" width="239" height="87.5"/>
<rect class="b" width="239" height="87.5"/>
<line class="d" x1="0" y1="36.5" x2="239" y2="36.5"/>
<text class="s" x="119.5" y="17">«XSDcomplexType»</text>
<text class="n" x="119.5" y="29.5">TreatmentCharacteristicType</text>
<text class="e" x="12" y="55.5">«XSDelement»</text>
<text class="a" x="8" y="68.5">+<tspan x="8" dy="13">+</tspan></text>
<text class="a" x="22" y="68.5">TreatmentCharacteristicCode: udt:CodeType<tspan x="22" dy="13">TreatmentCharacteristicValue: udt:TextType</tspan></text>
</g>

<g id="TreatmentZoneType" transform="translate(329,3555)">
<rect class="sh" x="3" y="3" width="307" height="152.5"/>
<rect class="c" width="307" height="152.5"/>
<line class="d" x1="0" y1="36.5" x2="307" y2="36.5"/>
<text class="s" x="153.5" y="17">«XSDcomplexType»</text>
<text class="n" x="153.5" y="29.5">TreatmentZoneType</text>
<text class="e" x="12" y="55.5">«XSDelement»</text>
<text class="a" x="8" y="68.5">+<tspan x="8" dy="13">+</tspan><tspan x="8" dy="13">+</tspan><tspan x="8" dy="13">+</tspan><tspan x="8" dy="13">+</tspan><tspan x="8" dy="13">+</tspan><tspan x="8" dy="13">+</tspan></text>
<text class="a" x="22" y="68.5">Area: cdt:Decimal10_2Type [0]<tspan x="22" dy="13">Border: PolygonType [0..1]</tspan><tspan x="22" dy="13">ProductAllocation: ProductAllocationType [0..*]</tspan><tspan x="22" dy="13">SoilObservation: ObservationType [0..*]</tspan><tspan x="22" dy="13">ThirdPartyTreatmentZoneID: udt:IDType [0]</tspan><tspan x="22" dy="13">TreatmentCharacteristic: TreatmentCharacteristicType [0..*]</tspan><tspan x="22" dy="13">TreatmentZoneID: udt:IDType</tspan></text>
</g>
</svg>
